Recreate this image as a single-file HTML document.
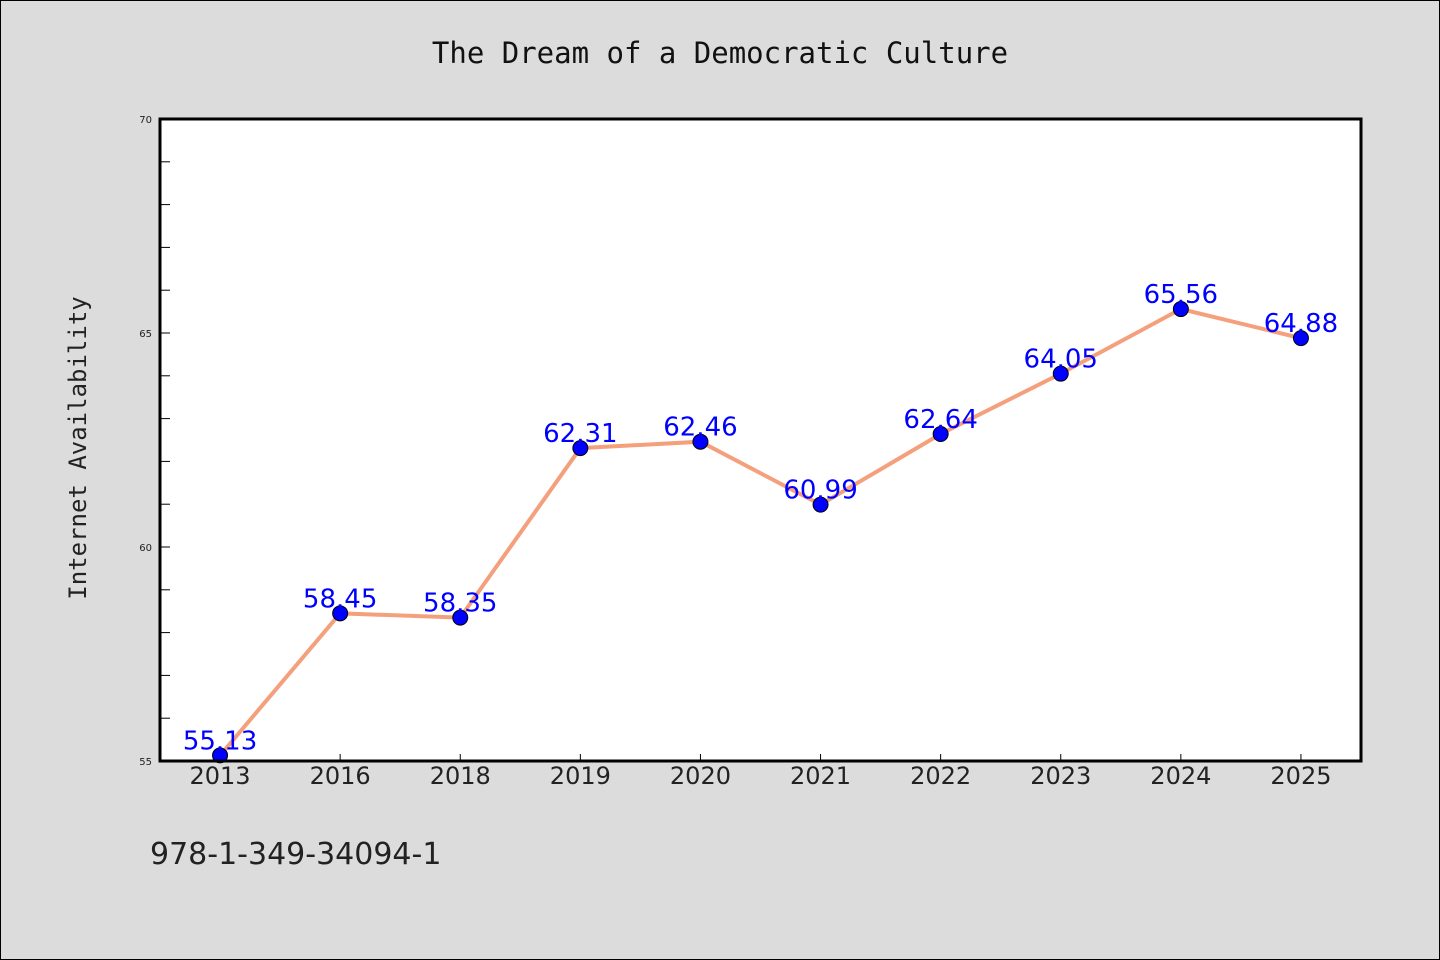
<!DOCTYPE html>
<html><head><meta charset="utf-8"><style>
html,body{margin:0;padding:0;background:#dcdcdc;}
svg{display:block;font-family:"WenQuanYi Zen Hei","DejaVu Sans",sans-serif;}
</style></head><body>
<svg width="1440" height="960">
<rect x="0.5" y="0.5" width="1439" height="959" fill="#dcdcdc" stroke="#000"/>
<text x="720" y="63" text-anchor="middle" font-size="29" fill="#111" font-family="'WenQuanYi Zen Hei Mono','DejaVu Sans Mono',monospace">The Dream of a Democratic Culture</text>
<rect x="160" y="119" width="1201" height="642" fill="#fff"/>
<g id="axes"></g>
<g id="marks"></g>
<rect x="160" y="119" width="1201" height="642" fill="none" stroke="#000" stroke-width="3"/>
<text x="86" y="448" text-anchor="middle" font-size="24" fill="#222" transform="rotate(-90 86 448)" font-family="'WenQuanYi Zen Hei Mono','DejaVu Sans Mono',monospace">Internet Availability</text>
<text x="150" y="864" font-size="30" fill="#222">978-1-349-34094-1</text>
</svg>
<script>
const categories=["2013","2016","2018","2019","2020","2021","2022","2023","2024","2025"];
const values=[55.13,58.45,58.35,62.31,62.46,60.99,62.64,64.05,65.56,64.88];
const yTicks=[55,60,65,70];
const yMinorTicks=[56,57,58,59,61,62,63,64,66,67,68,69];
const NS="http://www.w3.org/2000/svg";
const L=160,R=1361,T=119,B=761,yMin=55,yMax=70;
const band=(R-L)/categories.length;
const x=i=>L+band*(i+0.5);
const y=v=>B-(v-yMin)/(yMax-yMin)*(B-T);
function mk(tag,attrs,parent){const e=document.createElementNS(NS,tag);for(const k in attrs)e.setAttribute(k,attrs[k]);parent.appendChild(e);return e;}
const ax=document.getElementById('axes'),mg=document.getElementById('marks');
yTicks.forEach(v=>{
 const t=mk('text',{x:152,y:y(v)+4,'text-anchor':'end','font-size':10,fill:'#222'},ax);
 t.textContent=v;
 
 
 const l=mk('line',{x1:L,x2:L+10,y1:y(v),y2:y(v),stroke:'#000','stroke-width':1},ax);
 
 
});
yMinorTicks.forEach(v=>{
 const l=mk('line',{x1:L,x2:L+10,y1:y(v),y2:y(v),stroke:'#000','stroke-width':1},ax);
 
 
});
categories.forEach((c,i)=>{
 const l=mk('line',{x1:x(i),x2:x(i),y1:B,y2:B-7,stroke:'#000','stroke-width':1},ax);
 
 
 const t=mk('text',{x:x(i),y:784,'text-anchor':'middle','font-size':24,fill:'#222'},ax);
 t.textContent=c;
 
 
});
const line=mk('polyline',{points:values.map((v,i)=>x(i)+','+y(v)).join(' '),fill:'none',stroke:'#f4a07c','stroke-width':4},mg);


values.forEach((v,i)=>{
 const c=mk('circle',{cx:x(i),cy:y(v),r:7.5,fill:'#0000ff',stroke:'#000','stroke-width':1},mg);
 
 
});
values.forEach((v,i)=>{
 const t=mk('text',{x:x(i),y:y(v)-6,'text-anchor':'middle','font-size':26,fill:'#0000ff'},mg);
 t.textContent=v.toFixed(2);
 
 
});
</script>
</body></html>
